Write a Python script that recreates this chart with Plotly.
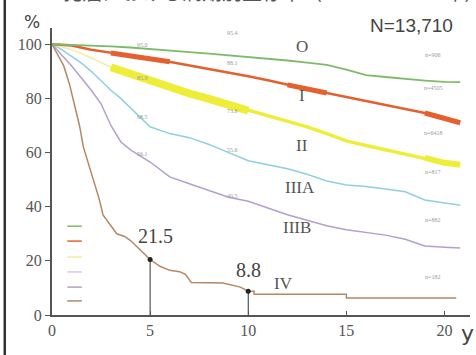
import plotly.graph_objects as go

# ---------------- data ----------------
stage_names = ["O", "I", "II", "IIIA", "IIIB", "IV"]
stage_n = ["n=906", "n=4505", "n=6418", "n=817", "n=882", "n=182"]
n_total = "N=13,710"
title_text = "乳癌における病期別生存率（1986 ～ 1990 年）"

o_x = [0, 1, 2, 3, 4, 5, 6, 7, 8, 9, 10, 11, 12, 13, 14, 15, 16, 17, 18, 19, 20, 20.8]
o_y = [100, 99.8, 99.5, 99.2, 98.8, 98.3, 97.7, 97.1, 96.5, 95.9, 95.4, 94.8, 94.0, 93.2, 92.4, 90.6, 88.6, 87.9, 87.2, 86.6, 86.1, 86.0]

i_x = [0, 1, 2, 3, 4, 5, 6, 7, 8, 9, 10, 11, 12, 13, 14, 15, 16, 17, 18, 19, 20, 20.8]
i_y = [100, 99.5, 98.0, 96.8, 95.8, 94.8, 93.5, 92.0, 90.7, 89.4, 88.2, 86.7, 85.0, 83.5, 82.0, 80.5, 79.0, 77.5, 76.0, 74.6, 72.6, 71.0]

ii_x = [0, 1, 2, 3, 4, 5, 6, 7, 8, 9, 10, 11, 12, 13, 14, 15, 16, 17, 18, 19, 20, 20.8]
ii_y = [100, 98.0, 95.0, 91.5, 89.0, 86.5, 84.0, 81.8, 79.8, 77.8, 75.5, 73.5, 71.5, 69.5, 67.0, 64.3, 62.6, 61.0, 59.5, 58.0, 56.2, 55.5]

iiia_x = [0, 0.5, 1, 1.5, 2, 2.5, 3, 3.5, 4, 4.5, 5, 6, 7, 8, 9, 10, 11, 12, 13, 14, 15, 16, 17, 18, 19, 20, 20.8]
iiia_y = [100, 98.0, 95.5, 93.0, 90.0, 86.5, 83.0, 80.0, 76.5, 73.0, 69.5, 67.0, 65.5, 63.0, 60.0, 57.0, 55.5, 54.0, 52.0, 49.5, 48.0, 47.5, 46.5, 45.5, 42.5, 41.5, 40.5]

iiib_x = [0, 0.5, 1, 1.5, 2, 2.5, 3, 3.5, 4, 5, 6, 7, 8, 9, 10, 11, 12, 13, 14, 15, 16, 17, 18, 19, 20, 20.8]
iiib_y = [100, 96.0, 92.0, 87.5, 83.0, 78.0, 70.0, 64.0, 61.0, 56.5, 51.0, 48.5, 46.0, 43.5, 42.0, 39.5, 37.0, 35.0, 33.0, 31.5, 30.5, 29.5, 28.0, 25.5, 25.0, 24.7]

iv_x = [0, 0.3, 0.6, 0.9, 1.1, 1.4, 1.6, 1.9, 2.1, 2.4, 2.6, 3.0, 3.3, 3.7, 4.0, 4.5, 5.0, 5.5, 6.0, 6.5, 6.8, 7.1, 8.0, 8.7, 9.6, 10.0, 10.3, 10.3, 15.0, 15.0, 20.6]
iv_y = [100, 96, 92, 85, 79, 70, 62, 55, 50, 43, 37, 33, 30, 29, 27.5, 24.0, 20.5, 18.0, 16.5, 16.0, 15.0, 12.0, 11.8, 11.8, 10.3, 8.8, 8.8, 7.7, 7.7, 6.3, 6.3]

marked_years = [5, 10]
iv_marked = [20.5, 8.8]
iv_marked_labels = ["21.5", "8.8"]

small_5y = ["97.5", "95.0", "85.9", "68.5", "56.1"]
small_10y = ["95.4", "88.1", "73.8", "55.6", "40.5"]

colors = {"O": "#7dbb6a", "I": "#e5602f", "II": "#eeee3a", "IIIA": "#8fcfe0",
          "IIIB": "#b39fcf", "IV": "#b38866"}

# ---------------- figure ----------------
fig = go.Figure()

def line(x, y, color, width, opacity=1.0):
    fig.add_trace(go.Scatter(x=x, y=y, mode="lines", line=dict(color=color, width=width),
                             opacity=opacity, hoverinfo="skip", showlegend=False))

def seg(x, y, lo, hi):
    xs, ys = [], []
    for a, b in zip(x, y):
        if lo <= a <= hi:
            xs.append(a); ys.append(b)
    return xs, ys

line(iiib_x, iiib_y, colors["IIIB"], 1.5)
line(iiia_x, iiia_y, colors["IIIA"], 1.5)
line(ii_x[:4], ii_y[:4], "#f2eeaa", 1.5)
line(ii_x[3:], ii_y[3:], colors["II"], 3.5)
sx, sy = seg(ii_x, ii_y, 3, 10)
line(sx, sy, colors["II"], 8)
sx, sy = seg(ii_x, ii_y, 19, 20.8)
line(sx, sy, colors["II"], 6)
line(i_x, i_y, colors["I"], 2.5)
for lo, hi in [(3, 6), (11.5, 14), (18.5, 20.8)]:
    sx, sy = seg(i_x, i_y, lo, hi)
    line(sx, sy, colors["I"], 5)
line(o_x, o_y, colors["O"], 1.8)
line(iv_x, iv_y, colors["IV"], 1.5)

# drop lines and dots for stage IV
for xv, yv in zip(marked_years, iv_marked):
    fig.add_trace(go.Scatter(x=[xv, xv], y=[0, yv], mode="lines", line=dict(color="#333", width=1),
                             hoverinfo="skip", showlegend=False))
fig.add_trace(go.Scatter(x=marked_years, y=iv_marked, mode="markers",
                         marker=dict(color="#222", size=5), hoverinfo="skip", showlegend=False))

# legend dashes (unlabelled) on the left
legend_y = [32.8, 27.3, 21.4, 15.9, 10.3, 5.2]
legend_cols = [colors["O"], colors["I"], "#f0eca0", "#d6c8e8", colors["IIIB"], colors["IV"]]
for yv, c in zip(legend_y, legend_cols):
    fig.add_trace(go.Scatter(x=[0.78, 1.52], y=[yv, yv], mode="lines", line=dict(color=c, width=1.5),
                             hoverinfo="skip", showlegend=False))

serif = "Liberation Serif"
annos = []
# stage labels
stage_pos = [(12.76, 99.3), (12.76, 81.2), (12.76, 62.7), (12.65, 47.2), (12.5, 32.5), (11.8, 11.8)]
for name, (xv, yv) in zip(stage_names, stage_pos):
    annos.append(dict(x=xv, y=yv, text=name, showarrow=False,
                      font=dict(family=serif, size=17, color="#555")))
# n labels
n_y = [95.9, 83.8, 67.2, 52.8, 35.1, 14.0]
for t, yv in zip(stage_n, n_y):
    annos.append(dict(x=19.4, y=yv, text=t, showarrow=False,
                      font=dict(family=serif, size=6, color="#999")))
# small 5y / 10y labels
y5 = [106.6, 99.6, 87.5, 73.0, 59.4]
y10 = [104.0, 93.0, 75.3, 60.9, 43.9]
for t, yv in zip(small_5y, y5):
    annos.append(dict(x=4.6, y=yv, text=t, showarrow=False,
                      font=dict(family=serif, size=6, color="#999")))
for t, yv in zip(small_10y, y10):
    annos.append(dict(x=9.2, y=yv, text=t, showarrow=False,
                      font=dict(family=serif, size=6, color="#999")))
# IV big labels
annos.append(dict(x=5.25, y=20.5, text=iv_marked_labels[0], showarrow=False, yshift=24,
                  font=dict(family=serif, size=20, color="#444")))
annos.append(dict(x=10.0, y=8.8, text=iv_marked_labels[1], showarrow=False, yshift=21,
                  font=dict(family=serif, size=20, color="#444")))
# % , y, N, title
annos.append(dict(x=-0.048, y=1.02, xref="paper", yref="paper", text="%", showarrow=False,
                  xanchor="center", yanchor="middle",
                  font=dict(family="DejaVu Sans", size=17, color="#444")))
annos.append(dict(x=0.995, y=-0.063, xref="paper", yref="paper", text="y", showarrow=False,
                  xanchor="center", yanchor="middle",
                  font=dict(family="DejaVu Sans", size=22, color="#444")))
annos.append(dict(x=0.86, y=1.008, xref="paper", yref="paper", text=n_total, showarrow=False,
                  xanchor="center", yanchor="middle",
                  font=dict(family="Liberation Sans", size=19, color="#444")))
annos.append(dict(x=0.02, y=1.128, xref="paper", yref="paper", text=title_text, showarrow=False,
                  xanchor="left", yanchor="middle",
                  font=dict(family="Noto Sans CJK JP", size=20, color="#555")))

fig.update_layout(
    width=476, height=355,
    margin=dict(l=52, r=6, t=28, b=40),
    paper_bgcolor="white", plot_bgcolor="white",
    annotations=annos,
    shapes=[dict(type="line", xref="paper", yref="paper", x0=-0.113, x1=-0.113, y0=-0.2, y1=1.2,
                 line=dict(color="#333", width=2.5))],
)
fig.update_xaxes(range=[0, 21.3], showgrid=False, zeroline=False, showline=True, linecolor="#555",
                 linewidth=2, tickvals=[0, 5, 10, 15, 20], ticks="inside", ticklen=4, tickcolor="#555",
                 tickfont=dict(family=serif, size=16, color="#555"))
fig.update_yaxes(range=[0, 106], showgrid=False, zeroline=False, showline=True, linecolor="#555",
                 linewidth=2, tickvals=[0, 20, 40, 60, 80, 100], ticks="outside", ticklen=5,
                 tickcolor="#555", tickfont=dict(family=serif, size=16, color="#555"))

fig.write_html("out.html")
